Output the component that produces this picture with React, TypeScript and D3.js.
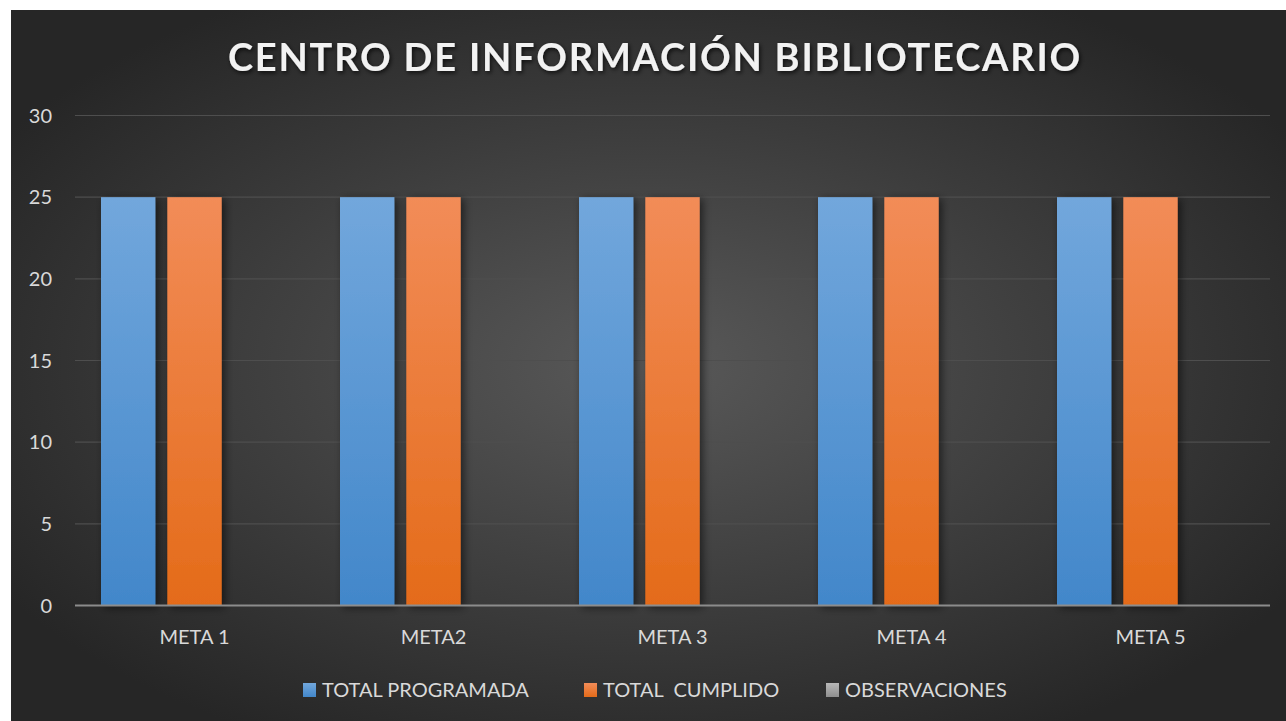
import React from "react";
import * as d3 from "d3";

const categories = ["META 1", "META2", "META 3", "META 4", "META 5"];
const totalProgramada = [25, 25, 25, 25, 25];
const totalCumplido = [25, 25, 25, 25, 25];
const observaciones = [0, 0, 0, 0, 0];
const seriesNames = ["TOTAL PROGRAMADA", "TOTAL  CUMPLIDO", "OBSERVACIONES"];
const yTicks = [0, 5, 10, 15, 20, 25, 30];

const W = 1286;
const H = 721;
const plot = { left: 75, right: 1270, top: 115.5, bottom: 605.5 };

export default function App() {
  const x = d3.scaleBand<string>().domain(categories).range([plot.left, plot.right]).paddingInner(0).paddingOuter(0);
  const y = d3.scaleLinear().domain([0, 30]).range([plot.bottom, plot.top]);
  const inner = d3
    .scaleBand<number>()
    .domain([0, 1, 2])
    .range([26, x.bandwidth() - 26])
    .paddingInner(0.18)
    .paddingOuter(0);
  const series = [totalProgramada, totalCumplido, observaciones];
  const fills = ["url(#gBlue)", "url(#gOrange)", "url(#gGray)"];
  const legendColors = ["url(#gBlue)", "url(#gOrange)", "url(#gGray)"];
  const legendX = [303, 584, 826];
  const font = "Lato, 'Open Sans', sans-serif";
  const textColor = "#d9d9d9";

  return (
    <svg width={W} height={H} style={{ position: "absolute", left: 0, top: 0, display: "block" }}>
      <defs>
        <radialGradient id="bg" cx="50%" cy="50%" r="60%">
          <stop offset="0%" stopColor="#595959" />
          <stop offset="100%" stopColor="#262626" />
        </radialGradient>
        <linearGradient id="gBlue" x1="0" y1="0" x2="0" y2="1">
          <stop offset="0%" stopColor="#72a7dc" />
          <stop offset="100%" stopColor="#4287ca" />
        </linearGradient>
        <linearGradient id="gOrange" x1="0" y1="0" x2="0" y2="1">
          <stop offset="0%" stopColor="#f28c58" />
          <stop offset="100%" stopColor="#e46b19" />
        </linearGradient>
        <linearGradient id="gGray" x1="0" y1="0" x2="0" y2="1">
          <stop offset="0%" stopColor="#b8b8b8" />
          <stop offset="100%" stopColor="#8f8f8f" />
        </linearGradient>
        <filter id="shadow" x="-20%" y="-5%" width="150%" height="115%">
          <feDropShadow dx="3" dy="2" stdDeviation="4" floodColor="#000" floodOpacity="0.55" />
        </filter>
        <filter id="tshadow" x="-5%" y="-20%" width="110%" height="160%">
          <feDropShadow dx="1.5" dy="2" stdDeviation="2" floodColor="#000" floodOpacity="0.7" />
        </filter>
      </defs>
      <rect x={0} y={0} width={W} height={H} fill="#ffffff" />
      <rect x={11} y={10} width={W - 11} height={H - 10} fill="url(#bg)" />

      <text
        x={655}
        y={71}
        textAnchor="middle"
        fill="#f2f2f2"
        fontFamily={font}
        fontWeight={700}
        fontSize={38}
        letterSpacing={1.8}
        filter="url(#tshadow)"
      >
        CENTRO DE INFORMACIÓN BIBLIOTECARIO
      </text>

      {yTicks.filter((t) => t > 0).map((t) => (
        <line key={t} x1={plot.left} x2={plot.right} y1={y(t)} y2={y(t)} stroke="#4e4e4e" strokeWidth={1.2} />
      ))}
      {yTicks.map((t) => (
        <text
          key={t}
          x={52}
          y={y(t) + 7}
          textAnchor="end"
          fill={textColor}
          fontFamily={font}
          fontSize={20}
        >
          {t}
        </text>
      ))}

      {categories.map((c, i) => (
        <g key={c}>
          {series.map((s, k) => (
            <rect
              key={k}
              x={(x(c) as number) + (inner(k) as number)}
              y={y(s[i])}
              width={inner.bandwidth()}
              height={y(0) - y(s[i])}
              fill={fills[k]}
              filter="url(#shadow)"
            />
          ))}
          <text
            x={(x(c) as number) + x.bandwidth() / 2}
            y={644}
            textAnchor="middle"
            fill={textColor}
            fontFamily={font}
            fontSize={20}
          >
            {c}
          </text>
        </g>
      ))}

      <line x1={plot.left} x2={plot.right} y1={y(0)} y2={y(0)} stroke="#8c8c8c" strokeWidth={2} />

      {seriesNames.map((n, k) => (
        <g key={n}>
          <rect x={legendX[k]} y={683} width={13} height={14} fill={legendColors[k]} />
          <text
            x={legendX[k] + 19}
            y={697}
            fill={textColor}
            fontFamily={font}
            fontSize={20}
            style={{ whiteSpace: "pre" }}
          >
            {n}
          </text>
        </g>
      ))}
    </svg>
  );
}
